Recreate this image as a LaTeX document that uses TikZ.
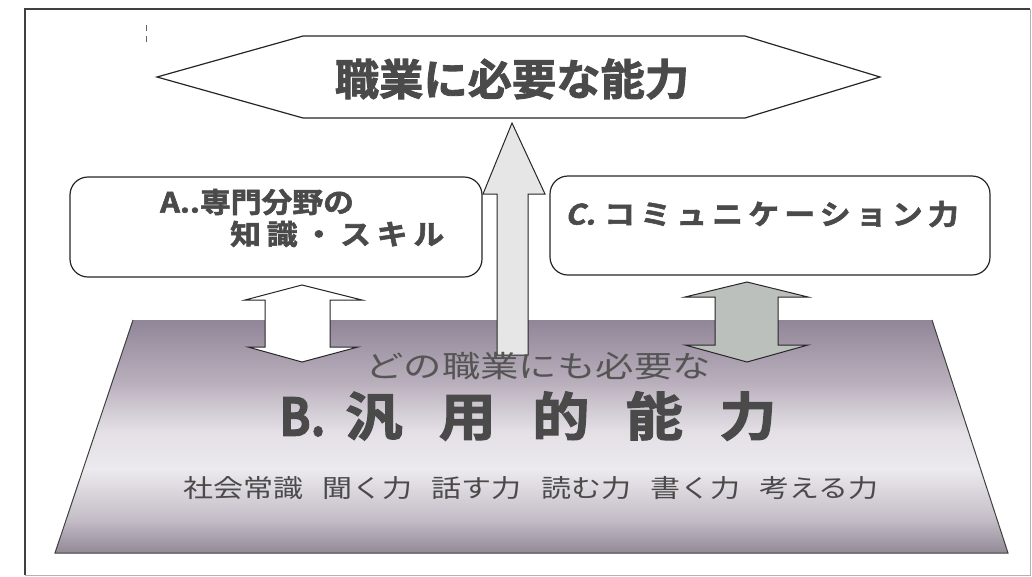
\documentclass[tikz,border=0pt]{standalone}
\usepackage{fontspec}
\usepackage{graphicx}
\newfontfamily\jp{Noto Sans CJK JP}
\newfontfamily\jph[FakeBold=2]{Noto Sans CJK JP Bold}
\newcommand\wx[2]{\scalebox{#1}[1]{#2}}
\definecolor{txt}{HTML}{4A4A4A}
\definecolor{txtlight}{HTML}{555555}
\definecolor{upfill}{HTML}{E6E6E6}
\definecolor{cfill}{HTML}{BCC0BC}
\definecolor{bzero}{HTML}{918995}
\definecolor{bone}{HTML}{C3BCC6}
\definecolor{btwo}{HTML}{ECEAEE}
\definecolor{bthree}{HTML}{E4E0E6}
\definecolor{bfour}{HTML}{B8AEBB}
\definecolor{bfive}{HTML}{918698}
\pgfdeclareverticalshading{baseshade}{100bp}{color(0bp)=(bzero); color(25bp)=(bzero); color(32bp)=(bone); color(43bp)=(btwo); color(51bp)=(bthree); color(62bp)=(bfour); color(75bp)=(bfive); color(100bp)=(bfive)}
\tikzset{
  framedark/.style={draw=black!75, line width=2.5pt},
  framelight/.style={draw=black!30, line width=1pt},
  outline/.style={draw=black!85, line width=1.2pt, line join=miter},
  roundbox/.style={outline, fill=white, rounded corners=18pt},
  txtnode/.style={inner sep=0pt, text=txt},
  boldtxt/.style={txtnode, font=\jph\fontsize{#1}{#1}\selectfont},
  lighttxt/.style={inner sep=0pt, text=txtlight, font=\jp\fontsize{#1}{#1}\selectfont},
}
\begin{document}
\begin{tikzpicture}[x=1pt,y=-1pt]
\useasboundingbox (0,0) rectangle (1032,576);
% frame
\draw[framelight] (1030,9) -- (1030,575) -- (25,575);
\draw[framedark] (25,575) -- (25,9) -- (1030,9);
% stray mark
\draw[black!60, line width=1pt] (146,25) -- (146,31) (146,36) -- (146,42);

% base trapezoid
\path[shading=baseshade] (133,320) -- (932,320) -- (1008,553) -- (55,553) -- cycle;
\draw[draw=black!75, line width=1pt] (133,320) -- (55,553) -- (1008,553) -- (932,320);
\coordinate (base) at (531,436);

% up arrow (B -> top)
\draw[outline, line width=1pt, fill=upfill] (512,123) -- (545,194) -- (528,194) -- (528,355) -- (497,355) -- (497,194) -- (483,194) -- cycle;

% left double arrow (A <-> B)
\draw[outline, line width=1pt, fill=white] (302,285) -- (362,300) -- (330,300) -- (330,347) -- (358,347) -- (302,362) -- (248,347) -- (265,347) -- (265,300) -- (245,300) -- cycle;

% right double arrow (C <-> B)
\draw[outline, line width=1pt, fill=cfill] (747,282) -- (808,297) -- (778,297) -- (778,345) -- (808,345) -- (747,362) -- (685,345) -- (715,345) -- (715,297) -- (685,297) -- cycle;

% top hexagon
\draw[outline, fill=white] (157,77) -- (303,36) -- (745,36) -- (880,77) -- (745,118) -- (303,118) -- cycle;
\node[boldtxt=43pt] (title) at (512,79) {\wx{1.03}{職業に必要な能力}};

% box A
\node[roundbox, minimum width=412pt, minimum height=100pt] (A) at (276,227) {};
\node[boldtxt=28pt, anchor=west] (a1) at (160,202) {\wx{1.1}{A..専門分野の}};
\node[boldtxt=28pt, anchor=west] (a2) at (230,234) {\wx{1.1}{\addfontfeature{LetterSpace=19}知識・スキル}};

% box C
\node[roundbox, minimum width=440pt, minimum height=99pt] (C) at (770,225.5) {};
\node[boldtxt=28pt, anchor=west] (c1) at (565,214) {\wx{1.1}{{\addfontfeature{FakeSlant=0.2}C.}\hskip8pt{\addfontfeature{LetterSpace=17}コミュニケーション力}}};

% base texts
\node[lighttxt=30pt] (b1) at (538,366) {\wx{1.28}{どの職業にも必要な}};
\node[boldtxt=52pt] (b2) at (528,416) {\wx{1.1}{\wx{0.8}{B.}\hskip18pt 汎\hskip33pt 用\hskip33pt 的\hskip33pt 能\hskip33pt 力}};
\node[lighttxt=25pt, text=txt] (b3) at (531,488) {\wx{1.2}{社会常識\hskip16pt 聞く力\hskip16pt 話す力\hskip16pt 読む力\hskip16pt 書く力\hskip16pt 考える力}};
\end{tikzpicture}
\end{document}
